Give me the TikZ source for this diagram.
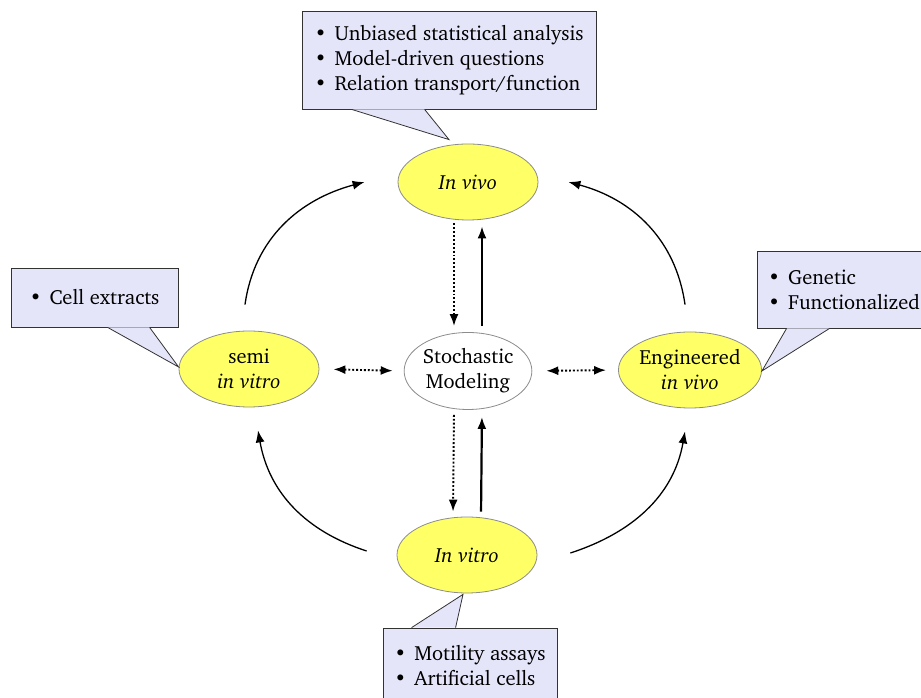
\documentclass[tikz,border=0pt]{standalone}
\usepackage[T1]{fontenc}
\usepackage{charter}
\usetikzlibrary{shapes.geometric,arrows.meta,calc}
\definecolor{boxfill}{RGB}{229,229,250}
\definecolor{boxline}{RGB}{50,50,50}
\definecolor{ellfill}{RGB}{255,255,102}
\definecolor{ellline}{RGB}{140,140,140}
\newcommand\itm{\makebox[20pt][l]{\textbullet}}
\begin{document}
\begin{tikzpicture}[x=1pt,y=1pt,
  every node/.style={font=\fontsize{20.5}{25}\selectfont},
  stage/.style={ellipse,draw=ellline,fill=ellfill,line width=0.8pt,minimum width=140,minimum height=76,inner sep=0,align=center},
  model/.style={ellipse,draw=ellline,fill=white,line width=0.8pt,minimum width=115,minimum height=77,inner sep=0,align=center},
  callbox/.style={rectangle,draw=boxline,fill=boxfill,line width=0.8pt,inner sep=0,align=left},
  callptr/.style={draw=boxline,fill=boxfill,line width=0.8pt,line join=miter},
  tip/.style={-{Latex[length=12pt,width=9pt]}},
  flow/.style={tip,line width=1.3pt},
  solidup/.style={tip,line width=2.2pt},
  dotdown/.style={tip,line width=1.9pt,dotted},
  dotboth/.style={{Latex[length=12pt,width=9pt]}-{Latex[length=12pt,width=9pt]},line width=1.9pt,dotted}
]
\useasboundingbox (0,0) rectangle (921,698);
\clip (0,0) rectangle (921,698);

% stage nodes
\node[stage] (invivo) at (468,516) {\itshape In vivo};
\node[model] (stoch) at (468,327) {Stochastic\\Modeling};
\node[stage] (semi) at (249,329) {semi\\\itshape in vitro};
\node[stage] (eng) at (690,328) {Engineered\\\itshape in vivo};
\node[stage] (invitro) at (467,143) {\itshape In vitro};

% callout boxes
\node[callbox,minimum width=294,minimum height=98] (topbox) at (449,638)
  {\itm Unbiased statistical analysis\\\itm Model-driven questions\\\itm Relation transport/function};
\fill[boxfill] ($(topbox.south west)+(50,0)$) -- ($(topbox.south west)+(123,0)$) -- ([xshift=-19pt,yshift=4pt]invivo.north) -- cycle;
\draw[callptr,fill=none] ($(topbox.south west)+(50,0)$) -- ([xshift=-19pt,yshift=4pt]invivo.north) -- ($(topbox.south west)+(123,0)$);

\node[callbox,minimum width=167,minimum height=59] (leftbox) at (94.5,400.5)
  {\itm Cell extracts};
\fill[boxfill] ($(leftbox.south west)+(97,0)$) -- ($(leftbox.south west)+(139,0)$) -- ([yshift=2pt]semi.west) -- cycle;
\draw[callptr,fill=none] ($(leftbox.south west)+(97,0)$) -- ([yshift=2pt]semi.west) -- ($(leftbox.south west)+(139,0)$);

\node[callbox,minimum width=174,minimum height=77] (rightbox) at (844,408.5)
  {\itm Genetic\\\itm Functionalized};
\fill[boxfill] ($(rightbox.south west)+(30,0)$) -- ($(rightbox.south west)+(73,0)$) -- ([yshift=-1pt]eng.east) -- cycle;
\draw[callptr,fill=none] ($(rightbox.south west)+(30,0)$) -- ([yshift=-1pt]eng.east) -- ($(rightbox.south west)+(73,0)$);

\node[callbox,minimum width=174,minimum height=75] (botbox) at (470,32.5)
  {\itm Motility assays\\\itm Artificial cells};
\fill[boxfill] ($(botbox.north west)+(29,0)$) -- ($(botbox.north west)+(73,0)$) -- ([xshift=-4pt,yshift=-1pt]invitro.south) -- cycle;
\draw[callptr,fill=none] ($(botbox.north west)+(29,0)$) -- ([xshift=-4pt,yshift=-1pt]invitro.south) -- ($(botbox.north west)+(73,0)$);

% vertical arrows
\draw[dotdown,shorten <=3pt,shorten >=6pt] ([xshift=-14pt]invivo.south) -- ([xshift=-14pt]stoch.north);
\draw[solidup,shorten <=6pt,shorten >=6pt] ([xshift=14pt]stoch.north) -- ([xshift=14pt]invivo.south);
\draw[dotdown,shorten <=5pt,shorten >=5pt] ([xshift=-14pt]stoch.south) -- ([xshift=-14pt]invitro.north);
\draw[solidup,shorten <=5pt,shorten >=7pt] ([xshift=14pt]invitro.north) -- ([xshift=14pt]stoch.south);

% horizontal arrows
\draw[dotboth,shorten <=14pt,shorten >=11pt] (semi.east) -- (stoch.west);
\draw[dotboth,shorten <=14pt,shorten >=12pt] (stoch.east) -- (eng.west);

% outer curved arrows
\draw[flow] ([xshift=-4pt,yshift=26pt]semi.north) to[out=82,in=195] ([xshift=-33pt]invivo.west);
\draw[flow] ([xshift=-5pt,yshift=27pt]eng.north) to[out=98,in=-15] ([xshift=30pt]invivo.east);
\draw[flow] ([xshift=-30pt,yshift=4pt]invitro.west) to[out=162,in=-80] ([xshift=9pt,yshift=-23pt]semi.south);
\draw[flow] ([xshift=33pt,yshift=2pt]invitro.east) to[out=18,in=-100] ([xshift=-5pt,yshift=-23pt]eng.south);
\end{tikzpicture}
\end{document}
